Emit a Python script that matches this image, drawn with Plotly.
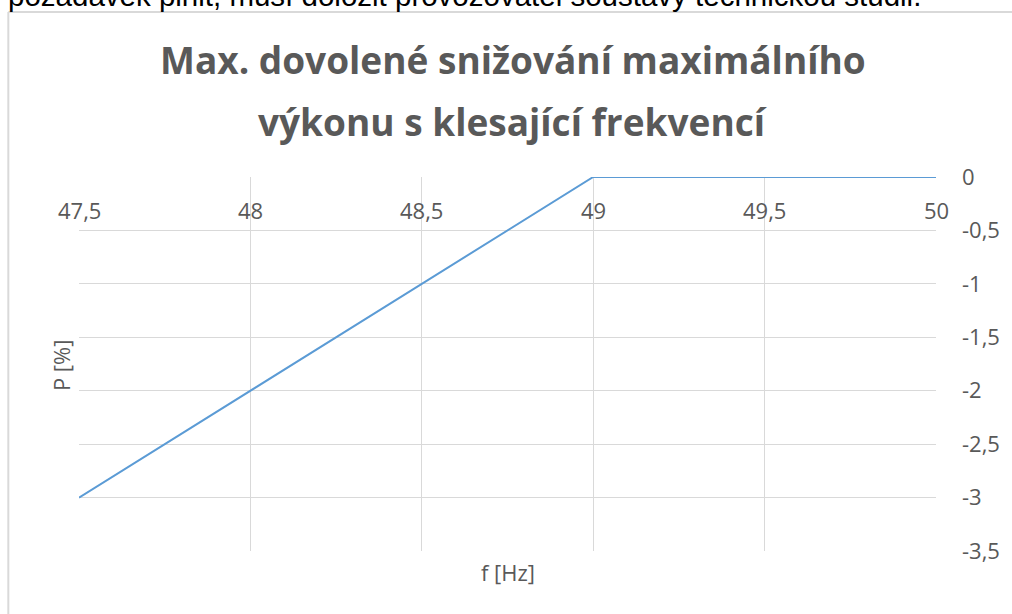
import plotly.graph_objects as go

# Data
freq_hz = [47.5, 49.0, 50.0]
power_pct = [-3.0, 0.0, 0.0]

x_tick_vals = [47.5, 48.0, 48.5, 49.0, 49.5, 50.0]
x_tick_text = ["47,5", "48", "48,5", "49", "49,5", "50"]
y_tick_vals = [0, -0.5, -1, -1.5, -2, -2.5, -3, -3.5]
y_tick_text = ["0", "-0,5", "-1", "-1,5", "-2", "-2,5", "-3", "-3,5"]

title_lines = ["Max. dovolené snižování maximálního", "výkonu s klesající frekvencí"]
x_title = "f [Hz]"
y_title = "P [%]"
top_text = "požadavek plnit, musí doložit provozovatel soustavy technickou studii."

W, H = 1012, 614
L, R, T, B = 79, 940, 177, 551  # plot area in pixels


def px(xp):
    return (xp - L) / (R - L)


def py(yp):
    return (B - yp) / (B - T)


GRAY = "#595959"
GRID = "#d9d9d9"
FONT = "Open Sans"

fig = go.Figure()
fig.add_trace(go.Scatter(
    x=freq_hz, y=power_pct, mode="lines",
    line=dict(color="#5B9BD5", width=2),
    hoverinfo="skip", showlegend=False,
))

fig.update_layout(
    width=W, height=H,
    margin=dict(l=L, r=W - R, t=T, b=H - B, pad=0),
    paper_bgcolor="white", plot_bgcolor="white",
    font=dict(family=FONT, color=GRAY, size=22),
    xaxis=dict(
        range=[47.5, 50], tickvals=x_tick_vals, showticklabels=False,
        showgrid=True, gridcolor=GRID, gridwidth=1, zeroline=False,
        showline=False, ticks="",
    ),
    yaxis=dict(
        range=[-3.5, 0], tickvals=y_tick_vals, ticktext=y_tick_text,
        side="right", showgrid=True, gridcolor=GRID, gridwidth=1,
        zeroline=False, showline=False, ticks="", ticklabelstandoff=25,
        tickfont=dict(family=FONT, size=22, color=GRAY),
    ),
)

annotations = []
# x tick labels placed under the 0-line (Excel axis crossing at 0)
for v, t in zip(x_tick_vals, x_tick_text):
    annotations.append(dict(
        x=v, y=-0.31, xref="x", yref="y", text=t, showarrow=False,
        xanchor="center", yanchor="middle",
        font=dict(family=FONT, size=22, color=GRAY),
    ))
# axis titles
annotations.append(dict(
    x=0.5, y=py(572), xref="paper", yref="paper", text=x_title,
    showarrow=False, xanchor="center", yanchor="middle",
    font=dict(family=FONT, size=22, color=GRAY),
))
annotations.append(dict(
    x=px(61), y=py(365), xref="paper", yref="paper", text=y_title,
    showarrow=False, xanchor="center", yanchor="middle", textangle=-90,
    font=dict(family=FONT, size=22, color=GRAY),
))
# title lines
for yc, line in zip([59, 121], title_lines):
    annotations.append(dict(
        x=px(515), y=py(yc), xref="paper", yref="paper",
        text="<b>" + line + "</b>", showarrow=False,
        xanchor="center", yanchor="middle",
        font=dict(family=FONT, size=37, color=GRAY),
    ))
# cut-off body text at the very top
annotations.append(dict(
    x=px(6), y=py(14), xref="paper", yref="paper", text=top_text,
    showarrow=False, xanchor="left", yanchor="bottom",
    font=dict(family="Liberation Sans", size=29.5, color="black"),
))
fig.update_layout(annotations=annotations)

# chart-area border (top and left edges visible)
fig.add_shape(type="line", xref="paper", yref="paper",
              x0=px(8), x1=px(1020), y0=py(12), y1=py(12),
              line=dict(color=GRID, width=2))
fig.add_shape(type="line", xref="paper", yref="paper",
              x0=px(8), x1=px(8), y0=py(12), y1=py(620),
              line=dict(color=GRID, width=2))

fig.write_html("out.html", config={"displayModeBar": False},
               post_script="document.body.style.margin='0';")
